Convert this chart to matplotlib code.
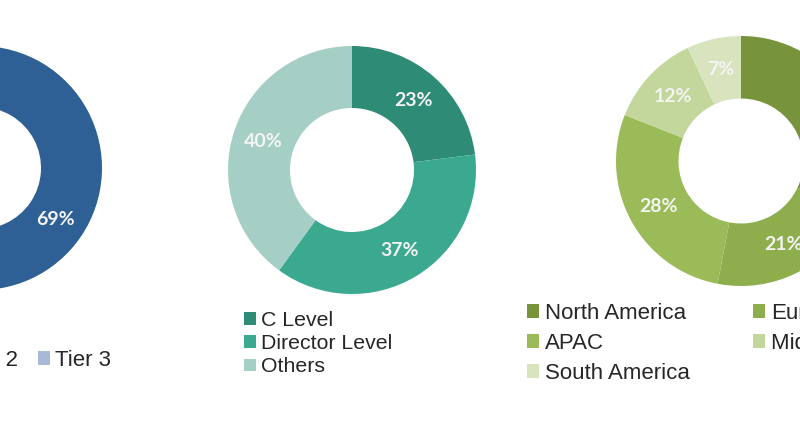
import matplotlib
matplotlib.use("Agg")
import matplotlib.pyplot as plt
from matplotlib.patches import Patch

# Segment data for the three donuts
tier_labels = ["Tier 1", "Tier 2", "Tier 3"]
tier_values = [69, 19, 12]
tier_colors = ["#2e6096", "#5b7fb0", "#a7b9d4"]

role_labels = ["C Level", "Director Level", "Others"]
role_values = [23, 37, 40]
role_colors = ["#2e8b76", "#3aa98f", "#a5cfc4"]

region_labels = ["North America", "Europe", "APAC", "Middle East & Africa", "South America"]
region_values = [32, 21, 28, 12, 7]
region_colors = ["#77933c", "#8ead4c", "#9bbb59", "#c3d69b", "#d8e4be"]

W, H = 800, 425
fig = plt.figure(figsize=(W / 100, H / 100), dpi=100)
fig.patch.set_facecolor("white")

LEGEND_FONT = "Liberation Sans"
LABEL_FONT = "Lato"
TEXT_COLOR = "#262626"


def donut(cx, cy, r, values, colors):
    """Place a donut with centre (cx, cy) in pixels from top-left and outer radius r."""
    ax = fig.add_axes([(cx - r) / W, (H - cy - r) / H, 2 * r / W, 2 * r / H])
    wedges, texts, autotexts = ax.pie(
        values, colors=colors, startangle=90, counterclock=False,
        radius=1.0, wedgeprops=dict(width=0.5, linewidth=0),
        autopct=lambda p: f"{p:.0f}%", pctdistance=0.75,
        textprops=dict(color="#f4f4f4", fontsize=14, fontweight="bold",
                       family=LABEL_FONT))
    ax.set_xlim(-1, 1)
    ax.set_ylim(-1, 1)
    ax.set_aspect("equal")
    ax.axis("off")
    return ax


donut(-20, 168, 122, tier_values, tier_colors)
donut(352, 170, 124, role_values, role_colors)
donut(741, 161, 125, region_values, region_colors)


def legend(x, y_top, labels, colors, fontsize, ncol=1, labelspacing=0.2,
           columnspacing=1.0, order=None):
    handles = [Patch(facecolor=c, edgecolor="none") for c in colors]
    if order is not None:
        handles = [handles[i] for i in order]
        labels = [labels[i] for i in order]
    leg = fig.legend(handles, labels, loc="upper left",
                     bbox_to_anchor=(x / W, 1 - y_top / H),
                     ncol=ncol, frameon=False, borderpad=0, borderaxespad=0,
                     handlelength=0.55, handleheight=0.55, handletextpad=0.25,
                     labelspacing=labelspacing, columnspacing=columnspacing,
                     prop=dict(family=LEGEND_FONT, size=fontsize))
    for t in leg.get_texts():
        t.set_color(TEXT_COLOR)
    return leg


legend(-150, 350, tier_labels, tier_colors, 16, ncol=3, columnspacing=0.9)
legend(244, 311, role_labels, role_colors, 15.3, labelspacing=0.2)
legend(527, 303, region_labels, region_colors, 16, ncol=2,
       labelspacing=0.4, columnspacing=2.85, order=[0, 2, 4, 1, 3])

fig.savefig("out.png", dpi=100, facecolor="white")
